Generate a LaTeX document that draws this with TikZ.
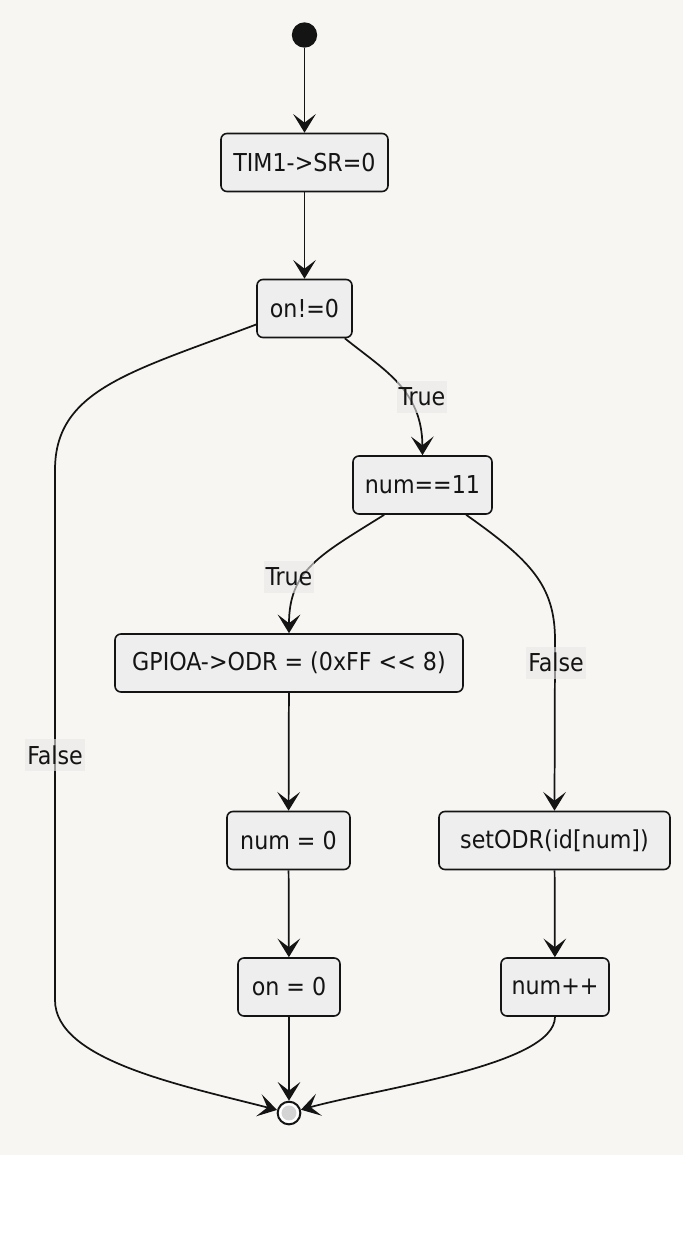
\documentclass[tikz,border=0pt]{standalone}
\usepackage{fontspec}
\setmainfont{DejaVu Sans Condensed}[Ligatures=TeXOff]
\usetikzlibrary{arrows.meta}
\definecolor{canvas}{HTML}{F7F6F3}
\definecolor{boxfill}{HTML}{EEEEEE}
\definecolor{ink}{HTML}{141414}
\definecolor{lblfill}{HTML}{E8E8E8}
\definecolor{endfill}{HTML}{D4D4D4}

\begin{document}
\begin{tikzpicture}[
    x=0.75pt, y=-0.75pt,
    action/.style={
        draw=ink, line width=1.2pt, fill=boxfill, rounded corners=4.5pt,
        minimum height=43.5pt, minimum width=#1*0.75pt, inner sep=0pt,
        font=\fontsize{18.5}{22}\selectfont, text=ink,
    },
    startst/.style={circle, fill=ink, minimum size=19pt, inner sep=0pt},
    endst/.style={
        circle, draw=ink, line width=1.5pt, fill=white, minimum size=17pt, inner sep=0pt,
        path picture={\fill[endfill] (path picture bounding box.center) circle[radius=5.6pt];},
    },
    arr/.style={-{Stealth[length=14pt, width=17pt, inset=6.5pt]}, line width=1.3pt, draw=ink},
    lbl/.style={
        fill=lblfill, fill opacity=0.6, text opacity=1, text=ink,
        inner xsep=1.5pt, inner ysep=0pt, minimum height=24pt,
        font=\fontsize{18.5}{22}\selectfont,
    },
]

% ════════════════════════════════════════
% Canvas
% ════════════════════════════════════════
\fill[white] (0,0) rectangle (683,1252);
\fill[canvas] (0,0) rectangle (683,1155);
\useasboundingbox (0,0) rectangle (683,1252);

% ════════════════════════════════════════
% States
% ════════════════════════════════════════
\node[startst] (start) at (304.5, 35) {};
\node[action=167] (clrsr) at (304.5, 162.5) {TIM1->SR=0};
\node[action=95] (ison) at (304.5, 308.5) {on!=0};
\node[action=139] (isnum) at (422.5, 485) {num==11};

% left branch (num==11 true)
\node[action=348] (setall) at (289, 663) {GPIOA->ODR = (0xFF << 8)};
\node[action=123] (numzero) at (288.5, 840.5) {num = 0};
\node[action=102] (onzero) at (289, 987) {on = 0};

% right branch (num==11 false)
\node[action=231] (setodr) at (554.5, 840.5) {setODR(id[num])};
\node[action=108] (numinc) at (555, 987) {num++};

\node[endst] (stop) at (289, 1113) {};

% ════════════════════════════════════════
% Transitions
% ════════════════════════════════════════
\draw[arr] (start) -- (clrsr);
\draw[arr] (clrsr) -- (ison);

% on!=0 -> True / False
\draw[arr] ([xshift=-6pt]ison.south east) .. controls (384,370) and (422,390) .. (isnum.north);
\draw[arr] ([yshift=-12pt]ison.west) .. controls (130,372) and (55,390) .. (55,470)
    -- (55,1000) .. controls (55,1060) and (180,1085) .. (stop);

% num==11 -> True / False
\draw[arr] ([xshift=24pt]isnum.south west) .. controls (320,555) and (289,570) .. (setall.north);
\draw[arr] ([xshift=-20pt]isnum.south east) .. controls (530,560) and (555,585) .. (555,640)
    -- (setodr.north);

\draw[arr] (setall) -- (numzero);
\draw[arr] (numzero) -- (onzero);
\draw[arr] (onzero) -- (stop);

\draw[arr] (setodr) -- (numinc);
\draw[arr] (numinc.south) .. controls (555,1065) and (380,1088) .. (stop);

% ════════════════════════════════════════
% Edge labels
% ════════════════════════════════════════
\node[lbl] (ontrue) at (422, 396.5) {True};
\node[lbl] (onfalse) at (55, 755) {False};
\node[lbl] (numtrue) at (289, 577) {True};
\node[lbl] (numfalse) at (556, 662.5) {False};

\end{tikzpicture}
\end{document}
